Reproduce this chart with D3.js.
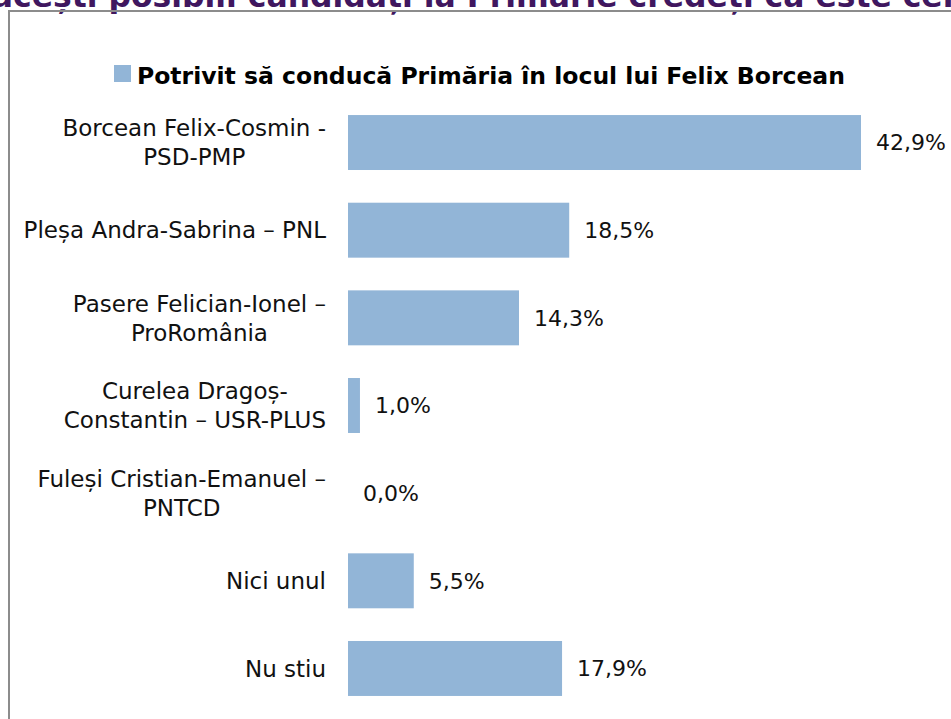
<!DOCTYPE html>
<html><head><meta charset="utf-8">
<script src="https://cdn.jsdelivr.net/npm/d3@7/dist/d3.min.js"></script>
<style>html,body{margin:0;padding:0;background:#fff;overflow:hidden}</style>
</head><body>
<svg id="c" width="951" height="719"></svg>
<script>
const pageTitle = "Dintre acești posibili candidați la Primărie credeți că este cel mai potrivit";
const seriesName = "Potrivit să conducă Primăria în locul lui Felix Borcean";
const categories = [
  "Borcean Felix-Cosmin -\nPSD-PMP",
  "Pleșa Andra-Sabrina – PNL",
  "Pasere Felician-Ionel –\nProRomânia",
  "Curelea Dragoș-\nConstantin – USR-PLUS",
  "Fuleși Cristian-Emanuel –\nPNTCD",
  "Nici unul",
  "Nu stiu"
];
const values = [42.9, 18.5, 14.3, 1.0, 0.0, 5.5, 17.9];
const valueLabels = ["42,9%", "18,5%", "14,3%", "1,0%", "0,0%", "5,5%", "17,9%"];

const svg = d3.select("#c");
const FONT = "'DejaVu Sans', sans-serif";
const barColor = "#92b5d7";

// slide title, mostly cut off at the top edge
const title = svg.append("text").attr("x", 0).attr("y", 7)
  .attr("font-family", FONT).attr("font-weight", "bold").attr("font-size", 30)
  .attr("fill", "#40175f").text(pageTitle);
{
  const n = title.node();
  const i1 = pageTitle.indexOf("ș"), i2 = pageTitle.indexOf("ț"), i3 = pageTitle.lastIndexOf("ț");
  const p1 = n.getStartPositionOfChar(i2).x, p2 = n.getStartPositionOfChar(i3).x;
  const fs = 30 * (738 - 397) / (p2 - p1);
  title.attr("font-size", fs);
  const s = n.getStartPositionOfChar(i1).x;
  title.attr("x", 59 - 6 - s);
}

// chart frame
svg.append("rect").attr("x", 9).attr("y", 11).attr("width", 960).attr("height", 720)
  .attr("fill", "none").attr("stroke", "#8c8c8c").attr("stroke-width", 2);

// legend
const lg = svg.append("g");
lg.append("rect").attr("x", 114).attr("y", 65).attr("width", 17).attr("height", 17).attr("fill", barColor);
lg.append("text").attr("x", 137).attr("y", 84)
  .attr("font-family", FONT).attr("font-weight", "bold").attr("font-size", 23.5)
  .attr("fill", "#000").text(seriesName);

const x = d3.scaleLinear().domain([0, 42.9]).range([348, 861]);
const y = d3.scaleBand().domain(categories).range([98.7, 712.3]).paddingInner(0.373).paddingOuter(0.1865);

svg.append("g").selectAll("rect").data(values).join("rect")
  .attr("x", x(0)).attr("y", (d, i) => y(categories[i]))
  .attr("width", d => x(d) - x(0)).attr("height", y.bandwidth())
  .attr("fill", barColor);

svg.append("g").selectAll("text").data(values).join("text")
  .attr("x", d => x(d) + 15).attr("y", (d, i) => y(categories[i]) + y.bandwidth() / 2)
  .attr("dy", "0.36em")
  .attr("font-family", FONT).attr("font-size", 22).attr("fill", "#111")
  .text((d, i) => valueLabels[i]);

// category labels: block right-aligned at 326, lines centered inside block
const labelRight = 326, lh = 29;
categories.forEach(c => {
  const lines = c.split("\n");
  const g = svg.append("g");
  const cy = y(c) + y.bandwidth() / 2;
  const ts = lines.map((ln, j) => g.append("text")
    .attr("y", cy + (j - (lines.length - 1) / 2) * lh).attr("dy", "0.36em")
    .attr("font-family", FONT).attr("font-size", 23).attr("fill", "#111")
    .attr("text-anchor", "middle").text(ln));
  const w = d3.max(ts, t => t.node().getComputedTextLength());
  let center = Math.max(labelRight - w / 2, 8 + w / 2);
  if (center + w / 2 > labelRight) center = labelRight - w / 2;
  ts.forEach(t => t.attr("x", center));
});
</script>
</body></html>
